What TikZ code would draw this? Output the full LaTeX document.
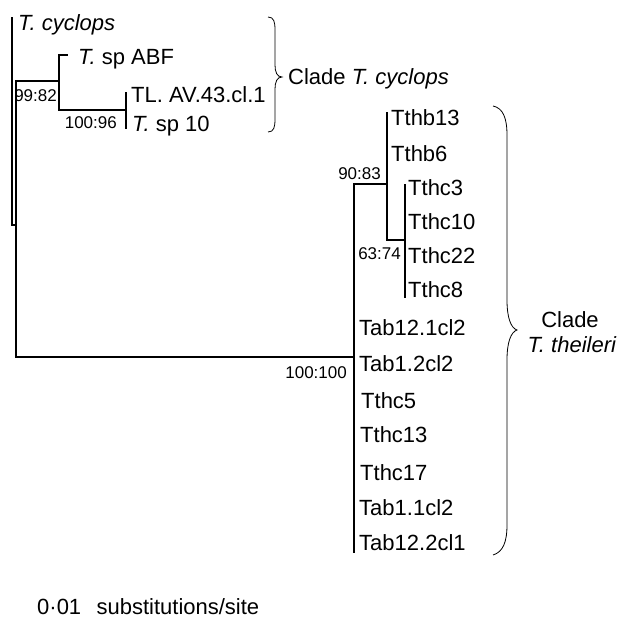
\documentclass[tikz,border=0pt]{standalone}
\usepackage{fontspec}
\setmainfont{Liberation Sans}
\begin{document}
\begin{tikzpicture}[x=1pt,y=-1pt,
  branch/.style={line width=1.1pt, line cap=rect},
  bracestyle/.style={line width=0.8pt},
  leaf/.style={anchor=west, inner sep=0pt, font=\fontsize{22}{25}\selectfont, text height=15.6pt, text depth=0pt},
  boot/.style={anchor=east, inner sep=0pt, font=\fontsize{17}{20}\selectfont, text height=12.2pt, text depth=0pt},
  cladelabel/.style={inner sep=0pt, font=\fontsize{22}{25}\selectfont, text height=15.6pt, text depth=0pt}]
\useasboundingbox (0,0) rectangle (622,619);

% internal node coordinates
\coordinate (r0t) at (12,18);
\coordinate (r0b) at (12,225);
\coordinate (n1a) at (16,225);
\coordinate (n1t) at (16,81);
\coordinate (n1b) at (16,357);
\coordinate (n2h) at (59,81);
\coordinate (n2t) at (59,55);
\coordinate (n2b) at (59,110);
\coordinate (n3h) at (126,110);
\coordinate (n3t) at (126,93);
\coordinate (n3b) at (126,128);
\coordinate (n4h) at (354,357);
\coordinate (n4t) at (354,184);
\coordinate (n4b) at (354,552);
\coordinate (n5h) at (387,184);
\coordinate (n5t) at (387,113);
\coordinate (n5b) at (387,240);
\coordinate (n6h) at (405,240);
\coordinate (n6t) at (405,185);
\coordinate (n6b) at (405,297);
\coordinate (abfend) at (67,55);

% leaves
\node[leaf] (tcyc) at (18,23) {\itshape T. cyclops};
\node[leaf] (tabf) at (78,57) {\textit{T.} sp ABF};
\node[leaf] (tlav) at (131,95) {TL. AV.43.cl.1};
\node[leaf] (tsp10) at (132,123.5) {\textit{T.} sp 10};

\node[leaf] (tthb13) at (391,118) {Tthb13};
\node[leaf] (tthb6) at (391,154) {Tthb6};
\node[leaf] (tthc3) at (408,188) {Tthc3};
\node[leaf] (tthc10) at (408,222) {Tthc10};
\node[leaf] (tthc22) at (408,256) {Tthc22};
\node[leaf] (tthc8) at (408,290) {Tthc8};

\node[leaf] (tab121) at (359,328) {Tab12.1cl2};
\node[leaf] (tab12) at (359,364) {Tab1.2cl2};
\node[leaf] (tthc5) at (361,401) {Tthc5};
\node[leaf] (tthc13) at (360,435) {Tthc13};
\node[leaf] (tthc17) at (360,473) {Tthc17};
\node[leaf] (tab11) at (359,508) {Tab1.1cl2};
\node[leaf] (tab122) at (359,543) {Tab12.2cl1};

% bootstrap labels
\node[boot] (b9982) at (57,95.5) {99:82};
\node[boot] (b10096) at (117,122.5) {100:96};
\node[boot] (b9083) at (381,173) {90:83};
\node[boot] (b6374) at (401,253) {63:74};
\node[boot] (b100100) at (347,372) {100:100};

% branches
\draw[branch] (r0t) -- (r0b) -- (n1a);
\draw[branch] (n1t) -- (n1b);
\draw[branch] (n1t) -- (n2h);
\draw[branch] (n2t) -- (n2b);
\draw[branch] (n2t) -- (abfend);
\draw[branch] (n2b) -- (n3h);
\draw[branch] (n3t) -- (n3b);
\draw[branch] (n1b) -- (n4h);
\draw[branch] (n4t) -- (n4b);
\draw[branch] (n4t) -- (n5h);
\draw[branch] (n5t) -- (n5b);
\draw[branch] (n5b) -- (n6h);
\draw[branch] (n6t) -- (n6b);

% braces
\coordinate (br1t) at (268,17);
\coordinate (br1m) at (282,77);
\coordinate (br1b) at (268,132);
\draw[bracestyle] (br1t) .. controls (274,17) and (275,22) .. (275,30) -- (275,65)
  .. controls (275,72) and (277,77) .. (br1m)
  .. controls (277,77) and (275,82) .. (275,89) -- (275,119)
  .. controls (275,127) and (274,132) .. (br1b);
\node[cladelabel, anchor=west] (clade1) at (288,77) {Clade \textit{T. cyclops}};

\coordinate (br2t) at (493,106);
\coordinate (br2m) at (517,330);
\coordinate (br2b) at (493,555);
\draw[bracestyle] (br2t) .. controls (503,108) and (507,118) .. (507,135) -- (507,300)
  .. controls (507,318) and (511,328) .. (br2m)
  .. controls (511,332) and (507,342) .. (507,360) -- (507,525)
  .. controls (507,542) and (503,552) .. (br2b);
\node[cladelabel] (clade2a) at (570,320) {Clade};
\node[cladelabel] (clade2b) at (572,345) {\textit{T. theileri}};

% scale
\node[leaf] (scale) at (37,607) {0·01\hspace{0.7em}substitutions/site};
\end{tikzpicture}
\end{document}
